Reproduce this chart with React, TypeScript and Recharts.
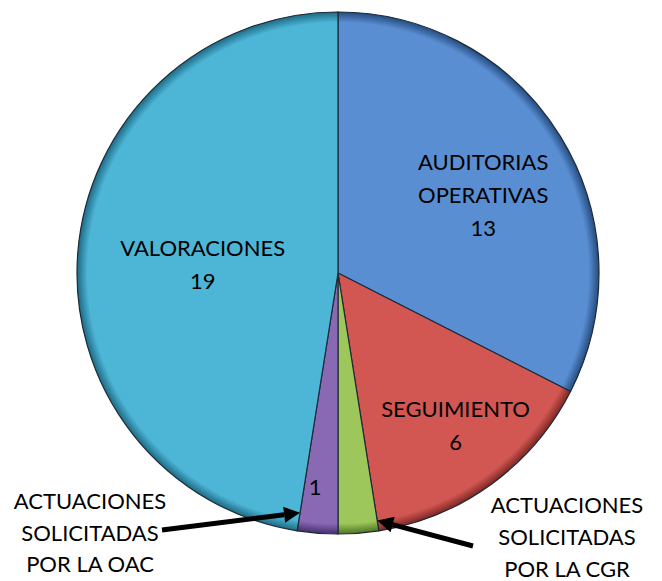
import { Pie, PieChart, Cell } from 'recharts'

// Distribución de actuaciones — pie with a 3D-ish bevel, clockwise from 12 o'clock.

const categories = [
  'AUDITORIAS OPERATIVAS',
  'SEGUIMIENTO',
  'ACTUACIONES SOLICITADAS POR LA CGR',
  'ACTUACIONES SOLICITADAS POR LA OAC',
  'VALORACIONES',
]
const values = [13, 6, 1, 1, 19]

const labelLines = [
  ['AUDITORIAS', 'OPERATIVAS', '13'],
  ['SEGUIMIENTO', '6'],
  ['ACTUACIONES', 'SOLICITADAS', 'POR LA CGR'],
  ['ACTUACIONES', 'SOLICITADAS', 'POR LA OAC'],
  ['VALORACIONES', '19'],
]

const COLORS = ['#5a8ed2', '#d25753', '#9dc75b', '#8968b4', '#4db5d6']
const EDGE = ['#244c80', '#7e2623', '#4f7425', '#44306a', '#1d6a84']

const W = 662
const H = 581
const CX = 338
const CY = 273
const R = 261
const FONT = 'Lato, "Open Sans", sans-serif'
const RAD = Math.PI / 180

const data = categories.map((name, i) => ({ name, value: values[i] }))

function polar(r: number, angle: number) {
  return { x: CX + r * Math.cos(-angle * RAD), y: CY + r * Math.sin(-angle * RAD) }
}

// radius factor + small nudge for labels drawn inside the slice
const insideRadius: Record<number, number> = { 0: 0.63, 1: 0.74, 4: 0.52 }
const nudge: Record<number, [number, number]> = { 0: [5, 7], 1: [4, -5], 4: [0, 1] }

function Arrow({ from, to }: { from: { x: number; y: number }; to: { x: number; y: number } }) {
  const dx = to.x - from.x
  const dy = to.y - from.y
  const len = Math.hypot(dx, dy)
  const ux = dx / len
  const uy = dy / len
  const head = 16
  const bx = to.x - ux * head
  const by = to.y - uy * head
  const px = -uy * 8
  const py = ux * 8
  return (
    <g>
      <line x1={from.x} y1={from.y} x2={bx} y2={by} stroke="#000" strokeWidth={5} />
      <polygon
        points={`${to.x},${to.y} ${bx + px},${by + py} ${bx - px},${by - py}`}
        fill="#000"
      />
    </g>
  )
}

function renderLabel(props: any) {
  const { index, midAngle, startAngle, endAngle } = props
  const lines = labelLines[index]
  if (index === 0 || index === 1 || index === 4) {
    const p = polar(R * insideRadius[index], midAngle)
    const [nx, ny] = nudge[index]
    const x = p.x + nx
    const lh = 33
    const top = p.y + ny - ((lines.length - 1) * lh) / 2
    return (
      <text
        key={index}
        x={x}
        textAnchor="middle"
        dominantBaseline="central"
        fontFamily={FONT}
        fontSize={22}
        fill="#000"
      >
        {lines.map((l, j) => (
          <tspan key={j} x={x} y={top + j * lh}>
            {l}
          </tspan>
        ))}
      </text>
    )
  }
  // small slices: label outside, arrow pointing at the slice edge
  const isCgr = index === 2
  const edgeAngle = isCgr ? Math.max(startAngle, endAngle) : Math.min(startAngle, endAngle)
  const tip = polar(R * (isCgr ? 0.96 : 0.93), edgeAngle)
  const tx = isCgr ? CX + 229 : CX - 248
  const ty = isCgr ? CY + 231 : CY + 227
  const lh = isCgr ? 32 : 31.5
  const from = isCgr ? { x: CX + 135, y: CY + 273 } : { x: CX - 176, y: CY + 257 }
  const numPos = polar(R * 0.82, midAngle)
  return (
    <g key={index}>
      {!isCgr && (
        <text
          x={numPos.x - 6}
          y={numPos.y}
          textAnchor="middle"
          dominantBaseline="central"
          fontFamily={FONT}
          fontSize={22}
          fill="#000"
        >
          {values[index]}
        </text>
      )}
      <text textAnchor="middle" dominantBaseline="central" fontFamily={FONT} fontSize={22} fill="#000">
        {lines.map((l, j) => (
          <tspan key={j} x={tx} y={ty + j * lh}>
            {l}
          </tspan>
        ))}
      </text>
      <Arrow from={from} to={tip} />
    </g>
  )
}

export default function App() {
  return (
    <div style={{ position: 'absolute', left: 0, top: 0, width: W, height: H, background: '#fff' }}>
      <PieChart width={W} height={H} margin={{ top: 0, right: 0, bottom: 0, left: 0 }}>
        <defs>
          {COLORS.map((c, i) => (
            <radialGradient
              key={i}
              id={`bevel-${i}`}
              gradientUnits="userSpaceOnUse"
              cx={CX}
              cy={CY}
              r={R}
            >
              <stop offset="0%" stopColor={c} />
              <stop offset="90%" stopColor={c} />
              <stop offset="96%" stopColor={c} />
              <stop offset="100%" stopColor={EDGE[i]} />
            </radialGradient>
          ))}
        </defs>
        <Pie
          data={data}
          dataKey="value"
          nameKey="name"
          cx={CX}
          cy={CY}
          outerRadius={R}
          startAngle={90}
          endAngle={-270}
          stroke="#1e2a36"
          strokeWidth={1.2}
          label={renderLabel}
          labelLine={false}
          isAnimationActive={false}
        >
          {data.map((d, i) => (
            <Cell key={d.name} fill={`url(#bevel-${i})`} />
          ))}
        </Pie>
      </PieChart>
    </div>
  )
}
